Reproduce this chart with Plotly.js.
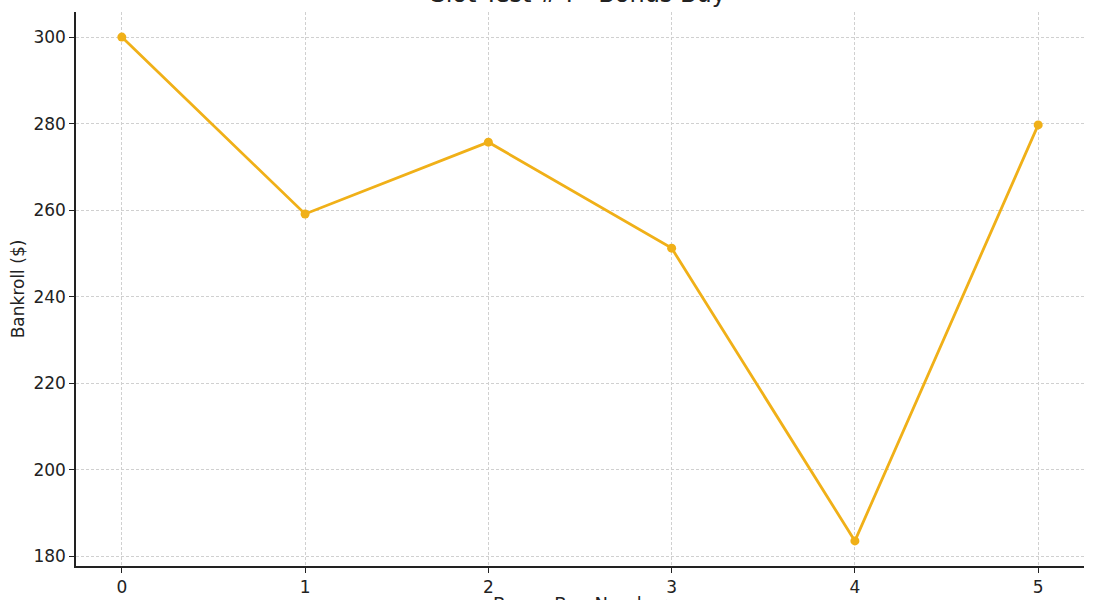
<!DOCTYPE html>
<html>
<head>
<meta charset="utf-8">
<script src="https://cdn.plot.ly/plotly-3.0.1.min.js"></script>
<style>html,body{margin:0;padding:0;background:#fff;}#chart{width:1095px;height:600px;}</style>
</head>
<body>
<div id="chart"></div>
<script>
const buyNumbers = [0, 1, 2, 3, 4, 5];
const bankroll = [300, 259.1, 275.7, 251.2, 183.5, 279.7];
const xTickVals = [0, 1, 2, 3, 4, 5];
const yTickVals = [180, 200, 220, 240, 260, 280, 300];

const color = '#f0b018';
const trace = {
  x: buyNumbers,
  y: bankroll,
  type: 'scatter',
  mode: 'lines+markers',
  line: {color: color, width: 2.8},
  marker: {color: color, size: 9},
  hoverinfo: 'x+y'
};

const axisCommon = {
  showgrid: true,
  gridcolor: '#d0d0d0',
  griddash: '3px,2px',
  gridwidth: 1,
  zeroline: false,
  ticks: 'outside',
  ticklen: 5,
  tickwidth: 1.2,
  tickcolor: '#222',
  showline: true,
  linecolor: '#222',
  linewidth: 1.5,
  tickfont: {family: 'DejaVu Sans', size: 17, color: '#222'}
};

const layout = {
  width: 1095,
  height: 600,
  margin: {l: 76, r: 11, t: 12, b: 34},
  paper_bgcolor: '#fff',
  plot_bgcolor: '#fff',
  showlegend: false,
  font: {family: 'DejaVu Sans', color: '#222'},
  title: {
    text: 'Slot Test #4 - Bonus Buy',
    font: {family: 'DejaVu Sans', size: 24, color: '#222'},
    x: 0.528, xanchor: 'center',
    yref: 'container', y: 0.996, yanchor: 'bottom'
  },
  xaxis: Object.assign({}, axisCommon, {
    range: [-0.25, 5.25],
    tickvals: xTickVals
  }),
  yaxis: Object.assign({}, axisCommon, {
    range: [177.7, 305.8],
    tickvals: yTickVals,
    title: {text: 'Bankroll ($)', font: {family: 'DejaVu Sans', size: 17, color: '#222'}, standoff: 4}
  }),
  annotations: [{
    text: 'Bonus Buy Number',
    xref: 'paper', yref: 'paper',
    x: 0.5, y: -0.046,
    xanchor: 'center', yanchor: 'top',
    showarrow: false,
    font: {family: 'DejaVu Sans', size: 18, color: '#222'}
  }]
};

Plotly.newPlot('chart', [trace], layout, {displayModeBar: false, responsive: false});
</script>
</body>
</html>
